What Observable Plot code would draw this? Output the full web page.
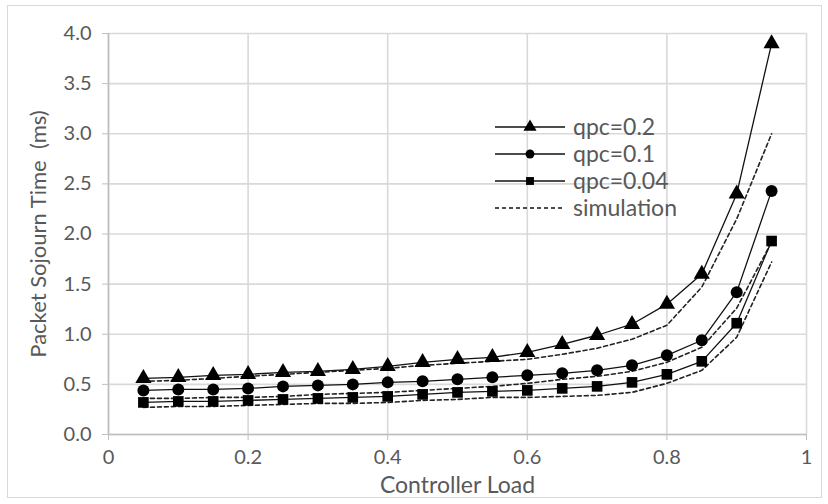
<!DOCTYPE html>
<html>
<head>
<meta charset="utf-8">
<script src="https://cdn.jsdelivr.net/npm/d3@7"></script>
<script src="https://cdn.jsdelivr.net/npm/@observablehq/plot@0.6"></script>
<style>
  html, body { margin: 0; padding: 0; background: #fff; }
  #wrap { position: relative; width: 828px; height: 504px; overflow: hidden; }
  #frame { position: absolute; left: 7px; top: 5px; width: 815px; height: 493px; border: 1.5px solid #d9d9d9; box-sizing: border-box; pointer-events: none; }
  #legend { position: absolute; left: 0; top: 0; pointer-events: none; }
</style>
</head>
<body>
<div id="wrap"><div id="frame"></div></div>
<script>
// ---- data ----
const loads = [0.05,0.10,0.15,0.20,0.25,0.30,0.35,0.40,0.45,0.50,0.55,0.60,0.65,0.70,0.75,0.80,0.85,0.90,0.95];
const qpc02 = [0.56,0.57,0.59,0.60,0.62,0.63,0.65,0.68,0.72,0.75,0.77,0.82,0.90,0.99,1.10,1.30,1.60,2.40,3.90];
const qpc01 = [0.44,0.45,0.45,0.46,0.48,0.49,0.50,0.52,0.53,0.55,0.57,0.59,0.61,0.64,0.69,0.79,0.94,1.42,2.43];
const qpc004 = [0.32,0.33,0.33,0.34,0.35,0.36,0.37,0.38,0.40,0.42,0.43,0.44,0.46,0.48,0.52,0.60,0.73,1.11,1.93];
const sim02 = [0.53,0.54,0.56,0.58,0.60,0.62,0.64,0.66,0.69,0.71,0.73,0.75,0.80,0.86,0.95,1.09,1.47,2.15,3.00];
const sim01 = [0.36,0.36,0.37,0.37,0.38,0.40,0.41,0.42,0.44,0.46,0.48,0.51,0.55,0.58,0.63,0.72,0.87,1.26,1.92];
const sim004 = [0.27,0.28,0.28,0.29,0.30,0.31,0.31,0.32,0.34,0.35,0.37,0.37,0.38,0.39,0.42,0.51,0.64,0.97,1.72];
const seriesNames = ["qpc=0.2","qpc=0.1","qpc=0.04"];
const seriesSymbols = ["triangle","circle","square"];
const simLabel = "simulation";
const xTicks = [0, 0.2, 0.4, 0.6, 0.8, 1];
const xTickLabels = ["0","0.2","0.4","0.6","0.8","1"];
const yTicks = [0,0.5,1,1.5,2,2.5,3,3.5,4];
const xTitle = "Controller Load";
const yTitle = "Packet Sojourn Time  (ms)";

// ---- tables ----
const modelSeries = [qpc02, qpc01, qpc004];
const simSeries = [sim02, sim01, sim004];
const model = modelSeries.flatMap((vals, i) => vals.map((v, j) => ({x: loads[j], y: v, s: seriesNames[i], sym: seriesSymbols[i]})));
const sim = simSeries.flatMap((vals, i) => vals.map((v, j) => ({x: loads[j], y: v, s: "sim" + i})));

const FONT = "Lato, 'Open Sans', sans-serif";
const TXT = "#595959";

const chart = Plot.plot({
  width: 828,
  height: 504,
  marginLeft: 108,
  marginRight: 22,
  marginTop: 33,
  marginBottom: 70,
  style: {fontFamily: FONT, background: "transparent"},
  x: {domain: [0, 1]},
  y: {domain: [0, 4]},
  symbol: {domain: seriesSymbols, range: seriesSymbols},
  marks: [
    Plot.gridX(xTicks, {stroke: "#d9d9d9", strokeOpacity: 1, strokeWidth: 1.6}),
    Plot.gridY(yTicks, {stroke: "#d9d9d9", strokeOpacity: 1, strokeWidth: 1.6}),
    Plot.ruleX([0], {stroke: "#bfbfbf", strokeWidth: 1.6}),
    Plot.ruleY([0], {stroke: "#bfbfbf", strokeWidth: 1.6}),
    Plot.axisX(xTicks, {tickSize: 6, stroke: "#bfbfbf", tickPadding: 9, fontSize: 20, color: TXT, tickFormat: (d, i) => xTickLabels[i], label: null}),
    Plot.axisX([], {label: xTitle, labelAnchor: "center", labelArrow: "none", labelOffset: 58, fontSize: 23, color: TXT}),
    Plot.axisY(yTicks, {tickSize: 6, stroke: "#bfbfbf", tickPadding: 11, fontSize: 20, color: TXT, tickFormat: d => d.toFixed(1), label: null}),
    Plot.axisY([], {label: yTitle, labelAnchor: "center", labelArrow: "none", labelOffset: 78, fontSize: 22, color: TXT}),
    Plot.line(sim, {x: "x", y: "y", z: "s", stroke: "#222", strokeWidth: 1.6, strokeDasharray: "4,3"}),
    Plot.line(model, {x: "x", y: "y", z: "s", stroke: "#111", strokeWidth: 1.3}),
    Plot.dot(model, {x: "x", y: "y", symbol: "sym", r: 6, fill: "black", stroke: "none"})
  ]
});
document.getElementById("wrap").appendChild(chart);

// ---- legend overlay ----
const lg = d3.select("#wrap").append("svg").attr("id", "legend").attr("width", 828).attr("height", 504)
  .style("font-family", FONT);
const legendItems = seriesNames.map((n, i) => ({label: n, sym: seriesSymbols[i], dash: false})).concat([{label: simLabel, sym: null, dash: true}]);
const symMap = {triangle: d3.symbolTriangle, circle: d3.symbolCircle, square: d3.symbolSquare};
const lx0 = 495, lx1 = 565, ly0 = 127, ldy = 27;
legendItems.forEach((it, i) => {
  const y = ly0 + i * ldy;
  lg.append("line").attr("x1", lx0).attr("x2", lx1).attr("y1", y).attr("y2", y)
    .attr("stroke", "#111").attr("stroke-width", it.dash ? 1.6 : 1.3)
    .attr("stroke-dasharray", it.dash ? "4,3" : null);
  if (it.sym) {
    lg.append("path").attr("d", d3.symbol(symMap[it.sym], it.sym === "triangle" ? 75 : 62)())
      .attr("transform", `translate(${(lx0 + lx1) / 2},${y})`).attr("fill", "black");
  }
  lg.append("text").attr("x", lx1 + 8).attr("y", y).attr("dy", "0.35em")
    .attr("font-size", 23).attr("fill", TXT).text(it.label);
});
</script>
</body>
</html>
